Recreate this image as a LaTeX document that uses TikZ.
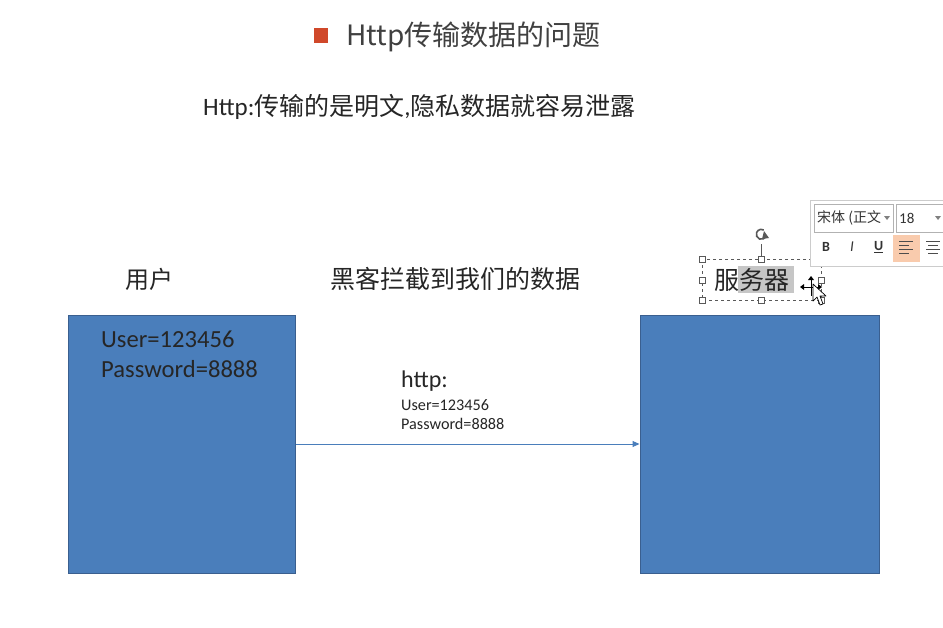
\documentclass[tikz,border=0pt]{standalone}
\usepackage{fontspec}
\setmainfont{Carlito}
\newfontfamily\cjk{Noto Sans CJK SC}
\usetikzlibrary{arrows.meta}
\definecolor{boxblue}{HTML}{4A7EBB}
\definecolor{boxedge}{HTML}{3A5F8F}
\definecolor{titlered}{HTML}{D0482A}
\definecolor{titlegray}{HTML}{404040}
\definecolor{txt}{HTML}{262626}
\definecolor{hilite}{HTML}{F9CBAD}
\tikzset{
  bigbox/.style={draw=boxedge, line width=1pt, fill=boxblue, inner sep=0pt},
  lbl/.style={anchor=west, inner sep=0pt, text=txt},
  flow/.style={draw=boxblue, line width=1pt, -{Triangle[length=7pt,width=6pt]}},
  handlebox/.style={draw=gray!70!black, fill=white, line width=0.6pt},
  tb/.style={anchor=west, inner sep=0pt, text=black!80}
}
\begin{document}
\begin{tikzpicture}[x=1pt,y=-1pt]
\useasboundingbox (0,0) rectangle (943,627);
\clip (0,0) rectangle (943,627);
\fill[white] (0,0) rectangle (943,627);

% title
\fill[titlered] (314,28) rectangle (328,43);
\node[lbl, text=titlegray, font=\cjk\fontsize{28}{30}\selectfont] (title) at (346,37) {Http传输数据的问题};

% subtitle
\node[lbl, font=\fontsize{25}{27}\selectfont] (sub) at (203,107) {Http:{\cjk 传输的是明文},{\cjk 隐私数据就容易泄露}};

% labels
\node[lbl, font=\cjk\fontsize{24}{26}\selectfont] (user) at (125,279) {用户};
\node[lbl, font=\cjk\fontsize{25}{27}\selectfont] (hacker) at (330,279) {黑客拦截到我们的数据};

% server label with selection
\fill[gray!45] (738,266) rectangle (794,293);
\node[lbl, font=\cjk\fontsize{25}{27}\selectfont] (server) at (714,280) {服务器};
\draw[gray!70!black, dashed, line width=0.5pt] (702,259) rectangle (821,300);
\draw[gray!70!black, line width=0.6pt] (761,244) -- (761,256);
\foreach \x/\y in {702/259,761/259,821/259,702/280,821/280,702/300,761/300,821/300}
  \draw[handlebox] (\x-3,\y-3) rectangle (\x+3,\y+3);
\draw[gray!70!black, line width=1.6pt] (766,236) arc[start angle=20, end angle=300, radius=5];
\fill[gray!70!black] (764,231) -- (769,238) -- (762,239) -- cycle;

% boxes
\node[bigbox, minimum width=227pt, minimum height=258pt] (lbox) at (181.5,444) {};
\node[bigbox, minimum width=239pt, minimum height=258pt] (rbox) at (759.5,444) {};
\node[lbl, font=\fontsize{24.6}{26}\selectfont] (u1) at (101,339) {User=123456};
\node[lbl, font=\fontsize{24.6}{26}\selectfont] (p1) at (101,369) {Password=8888};

% arrow and labels
\draw[flow] (lbox) -- (rbox);
\node[lbl, font=\fontsize{24}{26}\selectfont] (http) at (401,381) {http:};
\node[lbl, font=\fontsize{16.2}{18}\selectfont] (u2) at (401,405) {User=123456};
\node[lbl, font=\fontsize{16.2}{18}\selectfont] (p2) at (401,424) {Password=8888};

% mini toolbar
\draw[gray!40, fill=white] (810,200) rectangle (960,266);
\draw[gray!60] (814,204) rectangle (893,232);
\begin{scope}
  \clip (814,204) rectangle (881,232);
  \node[tb, font=\cjk\fontsize{14}{16}\selectfont] (fontname) at (817,218) {宋体 (正文};
\end{scope}
\fill[gray] (884,216) -- (890,216) -- (887,220) -- cycle;
\draw[gray!60] (896,204) rectangle (960,232);
\node[tb, font=\fontsize{15}{17}\selectfont] (fsize) at (899,218) {18};
\fill[gray] (935,216) -- (941,216) -- (938,220) -- cycle;
\node[tb, font=\bfseries\fontsize{14}{16}\selectfont] (bb) at (822,247) {B};
\node[tb, font=\itshape\fontsize{15}{17}\selectfont] (ii) at (850,247) {I};
\node[tb, font=\bfseries\fontsize{14}{16}\selectfont] (uu) at (874,247) {\underline{U}};
\fill[hilite] (893,235) rectangle (920,262);
\foreach \y/\l in {241/14,245/10,249/14,253/10}
  \draw[black!70, line width=0.8pt] (899,\y) -- ++(\l,0);
\foreach \y/\l in {241/14,245/10,249/14,253/10}
  \draw[black!70, line width=0.8pt] (933-\l/2,\y) -- ++(\l,0);

% cursor
\draw[black, line width=0.9pt] (802,287) -- (820,287) (811,278) -- (811,296);
\fill (800,287) -- (804,284) -- (804,290) -- cycle;
\fill (822,287) -- (818,284) -- (818,290) -- cycle;
\fill (811,276) -- (808,280) -- (814,280) -- cycle;
\draw[black, fill=white, line width=0.7pt, line join=round]
  (813,284) -- (813,301) -- (817,297) -- (820,305) -- (823,304) -- (820,296) -- (826,296) -- cycle;
\end{tikzpicture}
\end{document}
